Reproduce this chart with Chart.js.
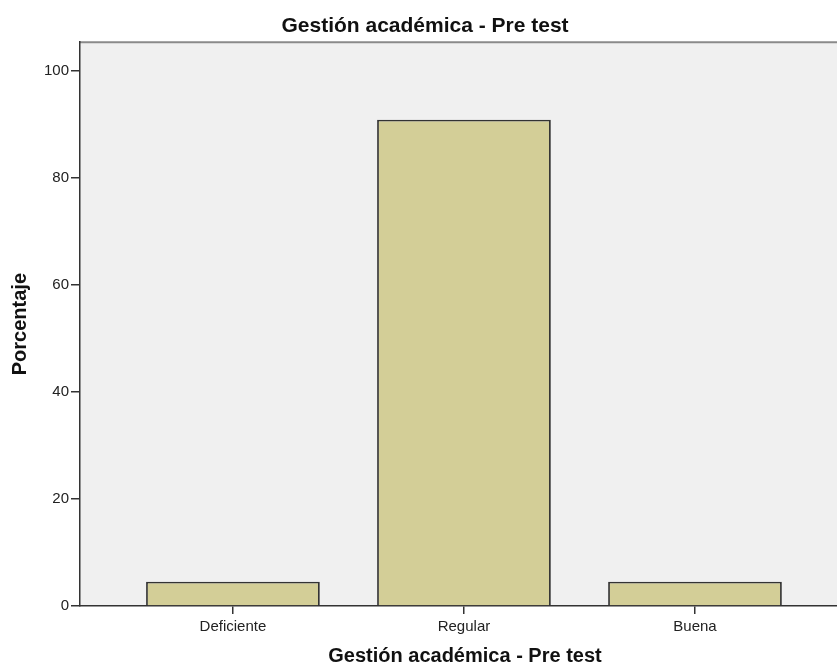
<!DOCTYPE html>
<html>
<head>
<meta charset="utf-8">
<script src="https://cdn.jsdelivr.net/npm/chart.js@4.4.1/dist/chart.umd.min.js"></script>
<style>
  html, body { margin: 0; padding: 0; background: #ffffff; overflow: hidden; }
  #wrap { width: 850px; height: 666px; position: relative; }
</style>
</head>
<body>
<div id="wrap"><canvas id="c"></canvas></div>
<script>
const chartTitle = 'Gestión académica - Pre test';
const xAxisTitle = 'Gestión académica - Pre test';
const yAxisTitle = 'Porcentaje';
const categories = ['Deficiente', 'Regular', 'Buena'];
const percentages = [4.55, 90.9, 4.55];
const yTicks = [0, 20, 40, 60, 80, 100];
const yMax = 105.4;
const xMin = -0.662;
const xMax = 2.671;

const FONT = '"Liberation Sans", Arial, sans-serif';

const plotBackground = {
  id: 'plotBackground',
  beforeDraw(chart) {
    const { ctx, chartArea: a } = chart;
    ctx.save();
    ctx.fillStyle = '#f0f0f0';
    ctx.fillRect(a.left, a.top, a.right - a.left, a.bottom - a.top);
    ctx.strokeStyle = '#8a8a8a';
    ctx.lineWidth = 2;
    ctx.beginPath();
    ctx.moveTo(a.left, a.top);
    ctx.lineTo(a.right, a.top);
    ctx.stroke();
    ctx.restore();
  }
};

new Chart(document.getElementById('c'), {
  type: 'bar',
  data: {
    datasets: [{
      data: categories.map((c, i) => ({ x: i, y: percentages[i] })),
      backgroundColor: '#d3ce97',
      borderColor: '#333333',
      borderWidth: 1.8,
      barPercentage: 0.752,
      categoryPercentage: 1
    }]
  },
  options: {
    responsive: true,
    maintainAspectRatio: false,
    animation: false,
    layout: { padding: 0 },
    plugins: {
      legend: { display: false },
      tooltip: { enabled: false },
      title: {
        display: true,
        text: chartTitle,
        color: '#111',
        font: { family: FONT, size: 21, weight: 'bold', lineHeight: 1.2 },
        padding: { top: 14, bottom: 3 }
      }
    },
    scales: {
      x: {
        type: 'linear',
        min: xMin,
        max: xMax,
        offset: false,
        afterBuildTicks(scale) {
          scale.ticks = categories.map((c, i) => ({ value: i }));
        },
        afterFit(scale) { scale.height = 60; },
        ticks: {
          callback: (v) => categories[v],
          color: '#222',
          font: { family: FONT, size: 15 },
          padding: 4,
          maxRotation: 0,
          autoSkip: false
        },
        grid: {
          display: true,
          offset: false,
          drawOnChartArea: false,
          drawTicks: true,
          tickLength: 8,
          color: '#333',
          lineWidth: 1.5
        },
        border: { display: true, color: '#333', width: 1.5 },
        title: {
          display: true,
          text: xAxisTitle,
          color: '#111',
          font: { family: FONT, size: 20, weight: 'bold', lineHeight: 1 },
          padding: { top: 0, bottom: 0 }
        }
      },
      y: {
        type: 'linear',
        min: 0,
        max: yMax,
        afterBuildTicks(scale) {
          scale.ticks = yTicks.map(v => ({ value: v }));
        },
        afterFit(scale) { scale.width = 80; },
        ticks: {
          color: '#222',
          font: { family: FONT, size: 15 },
          padding: 2,
          includeBounds: false
        },
        grid: {
          display: true,
          drawOnChartArea: false,
          drawTicks: true,
          tickLength: 9,
          color: '#333',
          lineWidth: 1.5
        },
        border: { display: true, color: '#333', width: 1.5 },
        title: {
          display: true,
          text: yAxisTitle,
          color: '#111',
          font: { family: FONT, size: 20, weight: 'bold', lineHeight: 1.2 },
          padding: { top: 8, bottom: 0 }
        }
      }
    }
  },
  plugins: [plotBackground]
});
</script>
</body>
</html>
